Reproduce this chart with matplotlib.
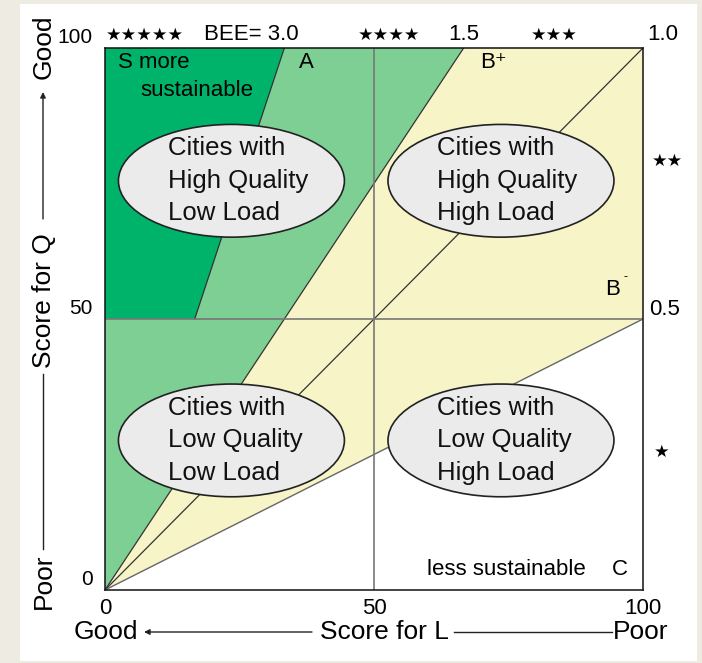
import matplotlib
matplotlib.use("Agg")
import matplotlib.pyplot as plt
from matplotlib.patches import Polygon, Ellipse, Rectangle
from matplotlib.transforms import ScaledTranslation

# ---------------- data ----------------
bee_levels = [3.0, 1.5, 1.0, 0.5]          # BEE boundary lines (Q = BEE * L)
q_split = 50                                # S requires Q >= 50
x_ticks = [0, 50, 100]
x_ticklabels = ["0", "50", "100"]
y_ticks = [0, 50, 100]
y_ticklabels = ["0", "50", "100"]
cell_texts = ["Cities with\nHigh Quality\nLow Load",
              "Cities with\nHigh Quality\nHigh Load",
              "Cities with\nLow Quality\nLow Load",
              "Cities with\nLow Quality\nHigh Load"]
cell_centers = [(23.5, 75.5), (73.6, 75.5), (23.5, 27.6), (73.6, 27.6)]

C_S = "#00b36b"
C_A = "#7ecf94"
C_B = "#f7f4c8"
C_ELL = "#ebebeb"
C_BG = "#eeece2"

plt.rcParams['font.family'] = ['Liberation Sans', 'DejaVu Sans']

fig = plt.figure(figsize=(7.02, 6.63), dpi=100, facecolor=C_BG)
W, H = 702, 663
fig.patches.append(Rectangle((20 / W, 1 - 661 / H), 677 / W, 657 / H,
                             transform=fig.transFigure, facecolor="white",
                             edgecolor="none", zorder=-10))

ax = fig.add_axes([105 / W, 1 - 590 / H, 538 / W, 542 / H])
ax.set_xlim(0, 100)
ax.set_ylim(0, 100)
ax.set_facecolor("white")

b3, b15, b1, b05 = bee_levels
# A region (BEE >= 1.5)
ax.add_patch(Polygon([(0, 0), (100 / b15, 100), (0, 100)], closed=True,
                     facecolor=C_A, edgecolor="none", zorder=1))
# B+ (1.0 <= BEE < 1.5)
ax.add_patch(Polygon([(0, 0), (100 / b1, 100), (100 / b15, 100)], closed=True,
                     facecolor=C_B, edgecolor="none", zorder=1))
# B- (0.5 <= BEE < 1.0)
ax.add_patch(Polygon([(0, 0), (100, 100 * b05), (100, 100 * b1)], closed=True,
                     facecolor=C_B, edgecolor="none", zorder=1))
# S (BEE >= 3.0 and Q >= 50)
ax.add_patch(Polygon([(0, q_split), (q_split / b3, q_split), (100 / b3, 100), (0, 100)],
                     closed=True, facecolor=C_S, edgecolor="none", zorder=1))

# boundary lines
ax.plot([q_split / b3, 100 / b3], [q_split, 100], color="#333333", lw=0.9, zorder=2)
ax.plot([0, 100 / b15], [0, 100], color="#333333", lw=0.9, zorder=2)
ax.plot([0, 100], [0, 100 * b1], color="#333333", lw=0.9, zorder=2)
ax.plot([0, 100], [0, 100 * b05], color="#666666", lw=1.0, zorder=2)
ax.axvline(50, color="#777777", lw=1.2, zorder=2)
ax.axhline(50, color="#777777", lw=1.2, zorder=2)

# ellipses
for (cx, cy), txt in zip(cell_centers, cell_texts):
    ax.add_patch(Ellipse((cx, cy), 42, 20.8, facecolor=C_ELL, edgecolor="#222222",
                         lw=1.2, zorder=3))
    ax.text(cx - 11.8, cy, txt, ha="left", va="center", fontsize=18.5,
            linespacing=1.45, color="#111111", zorder=4)

# region labels
RF = 16
ax.text(2.4, 97.3, "S more", fontsize=RF, ha="left", va="center", zorder=4)
ax.text(6.5, 92.2, "sustainable", fontsize=RF, ha="left", va="center", zorder=4)
ax.text(37.5, 97.3, "A", fontsize=RF, ha="center", va="center", zorder=4)
ax.text(69.7, 97.3, "B\u207a", fontsize=RF, ha="left", va="center", zorder=4)
ax.text(93.0, 55.5, "B", fontsize=RF, ha="left", va="center", zorder=4)
ax.text(96.3, 57.8, "-", fontsize=9, ha="left", va="center", zorder=4)
ax.text(59.9, 3.7, "less sustainable", fontsize=RF, ha="left", va="center", zorder=4)
ax.text(95.7, 3.7, "C", fontsize=RF, ha="center", va="center", zorder=4)

# BEE level labels (outside)
ytop = 102.4
SF = 12.5
ax.text(7.4, ytop, "\u2605\u2605\u2605\u2605\u2605", fontsize=SF, ha="center", va="center", clip_on=False)
ax.text(35.9, ytop, "BEE= 3.0", fontsize=RF, ha="right", va="center", clip_on=False)
ax.text(52.8, ytop, "\u2605\u2605\u2605\u2605", fontsize=SF, ha="center", va="center", clip_on=False)
ax.text(66.7, ytop, "1.5", fontsize=RF, ha="center", va="center", clip_on=False)
ax.text(83.5, ytop, "\u2605\u2605\u2605", fontsize=SF, ha="center", va="center", clip_on=False)
ax.text(100.8, ytop, "1.0", fontsize=RF, ha="left", va="center", clip_on=False)
ax.text(104.6, 79.0, "\u2605\u2605", fontsize=SF, ha="center", va="center", clip_on=False)
ax.text(101.2, 51.7, "0.5", fontsize=RF, ha="left", va="center", clip_on=False)
ax.text(103.4, 25.3, "\u2605", fontsize=SF, ha="center", va="center", clip_on=False)

# ticks
ax.set_xticks(x_ticks)
ax.set_xticklabels(x_ticklabels, fontsize=16)
ax.set_yticks(y_ticks)
ax.set_yticklabels(y_ticklabels, fontsize=15)
ax.tick_params(length=0)
ax.tick_params(axis="x", pad=6)
ax.tick_params(axis="y", pad=9)
for lab in ax.get_yticklabels():
    lab.set_transform(lab.get_transform() + ScaledTranslation(0, 8.7 / 72, fig.dpi_scale_trans))

for sp in ax.spines.values():
    sp.set_color("#111111")
    sp.set_linewidth(1.1)
    sp.set_zorder(5)


def fx(px):
    return px / W


def fy(py):
    return 1 - py / H


AF = 19
# x-axis label line
fig.text(fx(106), fy(632), "Good", fontsize=AF, ha="center", va="center")
fig.text(fx(384), fy(632), "Score for L", fontsize=AF, ha="center", va="center")
fig.text(fx(641), fy(632), "Poor", fontsize=AF, ha="center", va="center")
fig.add_artist(matplotlib.patches.FancyArrowPatch((fx(312), fy(632)), (fx(144), fy(632)),
               transform=fig.transFigure, arrowstyle="-|>", mutation_scale=8,
               color="#222222", lw=1.0, shrinkA=0, shrinkB=0))
fig.add_artist(matplotlib.lines.Line2D([fx(454), fx(612)], [fy(632), fy(632)],
               transform=fig.transFigure, color="#222222", lw=1.0))

# y-axis label line
fig.text(fx(44), fy(47), "Good", fontsize=AF, ha="center", va="center", rotation=90)
fig.text(fx(44), fy(301), "Score for Q", fontsize=AF, ha="center", va="center", rotation=90)
fig.text(fx(44), fy(581), "Poor", fontsize=AF, ha="center", va="center", rotation=90)
fig.add_artist(matplotlib.patches.FancyArrowPatch((fx(43), fy(219)), (fx(43), fy(92)),
               transform=fig.transFigure, arrowstyle="-|>", mutation_scale=8,
               color="#222222", lw=1.0, shrinkA=0, shrinkB=0))
fig.add_artist(matplotlib.lines.Line2D([fx(43), fx(43)], [fy(374), fy(549)],
               transform=fig.transFigure, color="#222222", lw=1.0))

fig.savefig("out.png", dpi=100, facecolor=C_BG)
